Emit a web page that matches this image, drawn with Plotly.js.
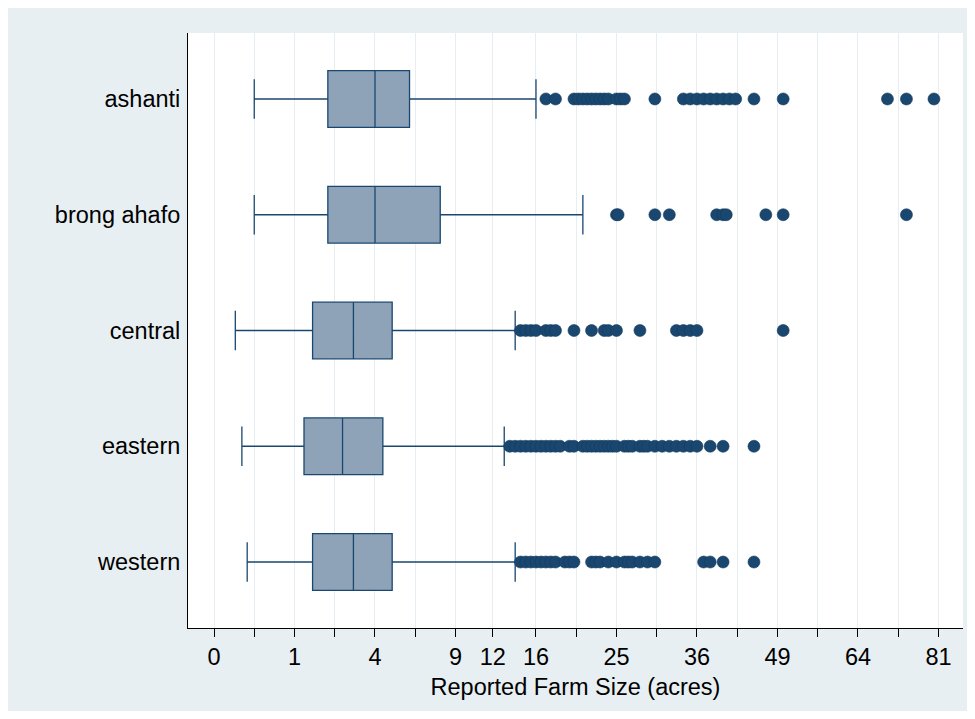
<!DOCTYPE html>
<html>
<head>
<meta charset="utf-8">
<script src="https://cdn.plot.ly/plotly-3.0.1.min.js"></script>
<style>
  html, body { margin: 0; padding: 0; background: #ffffff; }
  #chart { position: absolute; left: 8px; top: 8px; width: 959px; height: 703px; }
</style>
</head>
<body>
<div id="chart"></div>
<script>
// Regions (top to bottom)
const regions = ["ashanti", "brong ahafo", "central", "eastern", "western"];

// Box statistics in acres
const lowerWhisker = [0.25, 0.25, 0.07, 0.12, 0.17];
const q1Vals       = [2, 2, 1.5, 1.25, 1.5];
const medianVals   = [4, 4, 3, 2.55, 3];
const q3Vals       = [5.9, 7.9, 4.9, 4.4, 4.9];
const upperWhisker = [16, 21, 14, 13, 14];

// Outside values in acres, per region
const outAshanti = [17, 18, 20, 20.5, 21, 21.5, 22, 22.5, 23, 23.5, 24, 25, 25.5, 26, 30, 34, 35, 36, 37, 38, 39, 40, 41, 42, 45, 50, 70, 74, 80];
const outBrong   = [25, 25.2, 30, 32, 39, 40, 40.5, 47, 50, 74];
const outCentral = [14.5, 15, 15.5, 16, 17, 17.5, 18, 20, 22, 23.5, 24, 25, 28, 33, 34, 35, 36, 50];
const outEastern = [13.5, 14, 14.5, 15, 15.5, 16, 16.5, 17, 17.5, 18, 18.5,
                    19.5, 20, 21, 21.5, 22, 22.5, 23, 23.5, 24, 24.5, 25, 26, 26.5, 27, 28, 28.5, 29, 30, 31,
                    32, 33, 34, 35, 36, 38, 40, 45];
const outWestern = [14.5, 15, 15.5, 16, 16.5, 17, 17.5, 18, 19, 19.5, 20,
                    22, 22.5, 23, 24, 25, 26, 26.5, 27, 28, 29, 30, 37, 38, 40, 45];

// Axis ticks (acres); blank labels are minor ticks
const tickAcres  = [0, 0.25, 1, 2.25, 4, 6.25, 9, 12, 16, 20.25, 25, 30.25, 36, 42.25, 49, 56.25, 64, 72.25, 81];
const tickLabels = ["0", "", "1", "", "4", "", "9", "12", "16", "", "25", "", "36", "", "49", "", "64", "", "81"];

const sq = v => Math.sqrt(v);
const navy = "#1A476F";
const boxFill = "#8EA3B8";

const traces = [{
  type: "box",
  orientation: "h",
  y: regions,
  q1: q1Vals.map(sq),
  median: medianVals.map(sq),
  q3: q3Vals.map(sq),
  lowerfence: lowerWhisker.map(sq),
  upperfence: upperWhisker.map(sq),
  boxpoints: false,
  width: 0.49,
  whiskerwidth: 0.7,
  fillcolor: boxFill,
  line: { color: navy, width: 1.3 },
  hoverinfo: "skip",
  showlegend: false
}];

const outs = [outAshanti, outBrong, outCentral, outEastern, outWestern];
outs.forEach((arr, i) => {
  traces.push({
    type: "scatter",
    mode: "markers",
    x: arr.map(sq),
    y: arr.map(() => regions[i]),
    marker: { symbol: "circle", size: 12, color: navy, line: { color: "#143A5C", width: 0.6 } },
    showlegend: false,
    hoverinfo: "skip"
  });
});

const font = "Liberation Sans, Arial, sans-serif";
const fs = 23.5;
const layout = {
  width: 959, height: 703,
  paper_bgcolor: "#E8EFF2",
  plot_bgcolor: "#FFFFFF",
  margin: { l: 180, r: 4, t: 25, b: 83 },
  font: { family: font, size: fs, color: "#000000" },
  showlegend: false,
  xaxis: {
    range: [-0.323, 9.305],
    tickmode: "array",
    tickvals: tickAcres.map(sq),
    ticktext: tickLabels,
    ticks: "outside", ticklen: 8, tickwidth: 1, tickcolor: "#000000",
    showgrid: true, gridcolor: "#E6EEF1", gridwidth: 1,
    zeroline: false,
    showline: true, linecolor: "#000000", linewidth: 1,
    tickfont: { family: font, size: fs, color: "#000000" },
    title: { text: "Reported Farm Size (acres)", font: { family: font, size: fs, color: "#000000" }, standoff: 9 }
  },
  yaxis: {
    type: "category",
    categoryorder: "array",
    categoryarray: regions,
    range: [4.57, -0.57],
    autorange: false,
    showgrid: false, zeroline: false,
    showline: true, linecolor: "#000000", linewidth: 1,
    ticks: "",
    tickfont: { family: font, size: fs, color: "#000000" },
    ticklabelstandoff: 2
  }
};

Plotly.newPlot("chart", traces, layout, { staticPlot: true, displayModeBar: false });
</script>
</body>
</html>
